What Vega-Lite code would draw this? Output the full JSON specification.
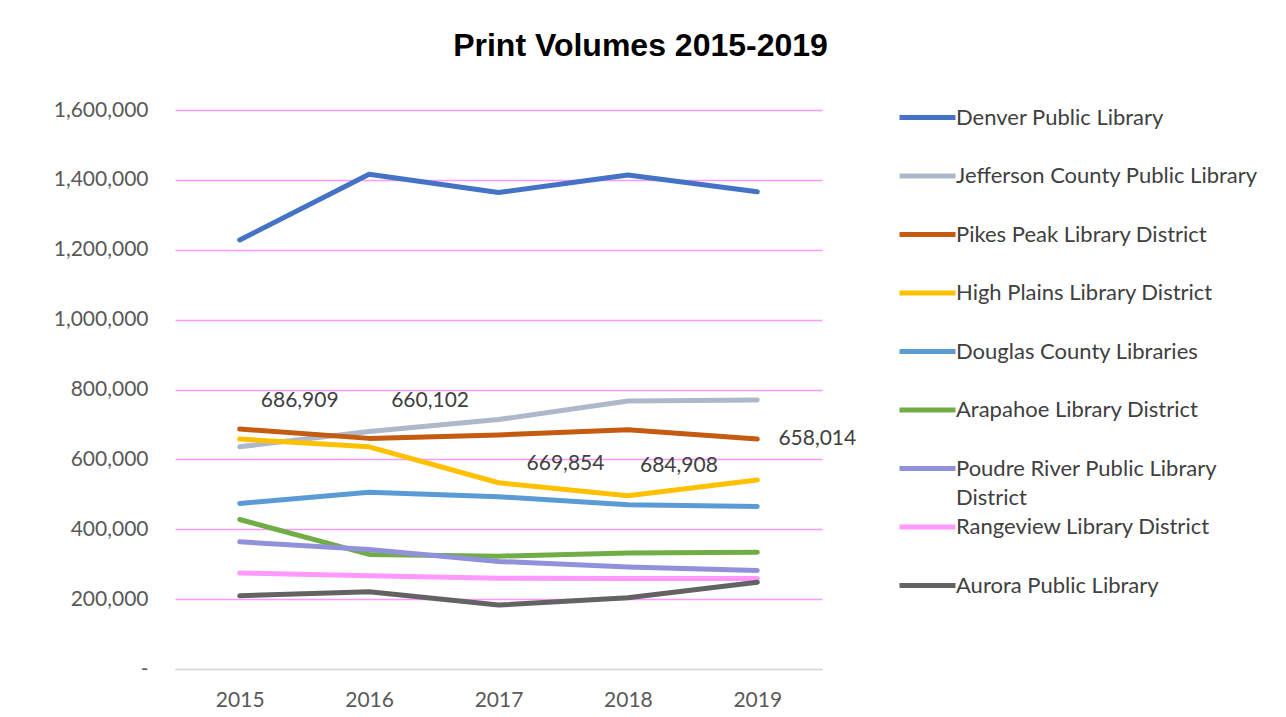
{
  "$schema": "https://vega.github.io/schema/vega-lite/v6.json",
  "width": 647,
  "height": 559,
  "autosize": {"type": "none"},
  "padding": {"left": 175, "top": 110, "right": 464, "bottom": 48},
  "background": "white",
  "config": {"view": {"stroke": null}, "style": {"guide-label": {"lineHeight": 29}}},
  "title": {"text": "Print Volumes 2015-2019", "font": "Liberation Sans", "fontSize": 32, "fontWeight": "bold", "color": "#000000", "anchor": "middle", "dx": 142, "offset": 36},
  "data": {"values": [
    {"library": "Denver Public Library", "year": "2015", "volume": 1228000},
    {"library": "Denver Public Library", "year": "2016", "volume": 1416000},
    {"library": "Denver Public Library", "year": "2017", "volume": 1364000},
    {"library": "Denver Public Library", "year": "2018", "volume": 1414000},
    {"library": "Denver Public Library", "year": "2019", "volume": 1366000},
    {"library": "Jefferson County Public Library", "year": "2015", "volume": 636000},
    {"library": "Jefferson County Public Library", "year": "2016", "volume": 680000},
    {"library": "Jefferson County Public Library", "year": "2017", "volume": 714000},
    {"library": "Jefferson County Public Library", "year": "2018", "volume": 767000},
    {"library": "Jefferson County Public Library", "year": "2019", "volume": 770000},
    {"library": "Pikes Peak Library District", "year": "2015", "volume": 686909},
    {"library": "Pikes Peak Library District", "year": "2016", "volume": 660102},
    {"library": "Pikes Peak Library District", "year": "2017", "volume": 669854},
    {"library": "Pikes Peak Library District", "year": "2018", "volume": 684908},
    {"library": "Pikes Peak Library District", "year": "2019", "volume": 658014},
    {"library": "High Plains Library District", "year": "2015", "volume": 658000},
    {"library": "High Plains Library District", "year": "2016", "volume": 636000},
    {"library": "High Plains Library District", "year": "2017", "volume": 533000},
    {"library": "High Plains Library District", "year": "2018", "volume": 496000},
    {"library": "High Plains Library District", "year": "2019", "volume": 541000},
    {"library": "Douglas County Libraries", "year": "2015", "volume": 474000},
    {"library": "Douglas County Libraries", "year": "2016", "volume": 506000},
    {"library": "Douglas County Libraries", "year": "2017", "volume": 493000},
    {"library": "Douglas County Libraries", "year": "2018", "volume": 470000},
    {"library": "Douglas County Libraries", "year": "2019", "volume": 465000},
    {"library": "Arapahoe Library District", "year": "2015", "volume": 428000},
    {"library": "Arapahoe Library District", "year": "2016", "volume": 328000},
    {"library": "Arapahoe Library District", "year": "2017", "volume": 323000},
    {"library": "Arapahoe Library District", "year": "2018", "volume": 332000},
    {"library": "Arapahoe Library District", "year": "2019", "volume": 334000},
    {"library": "Poudre River Public Library District", "year": "2015", "volume": 364000},
    {"library": "Poudre River Public Library District", "year": "2016", "volume": 342000},
    {"library": "Poudre River Public Library District", "year": "2017", "volume": 308000},
    {"library": "Poudre River Public Library District", "year": "2018", "volume": 292000},
    {"library": "Poudre River Public Library District", "year": "2019", "volume": 282000},
    {"library": "Rangeview Library District", "year": "2015", "volume": 275000},
    {"library": "Rangeview Library District", "year": "2016", "volume": 267000},
    {"library": "Rangeview Library District", "year": "2017", "volume": 260000},
    {"library": "Rangeview Library District", "year": "2018", "volume": 259000},
    {"library": "Rangeview Library District", "year": "2019", "volume": 259000},
    {"library": "Aurora Public Library", "year": "2015", "volume": 209500},
    {"library": "Aurora Public Library", "year": "2016", "volume": 221000},
    {"library": "Aurora Public Library", "year": "2017", "volume": 183000},
    {"library": "Aurora Public Library", "year": "2018", "volume": 204000},
    {"library": "Aurora Public Library", "year": "2019", "volume": 248000}
  ]},
  "encoding": {
    "x": {"field": "year", "type": "ordinal", "scale": {"type": "point", "padding": 0.5},
      "axis": {"title": null, "labelAngle": 0, "ticks": false, "domain": true, "domainColor": "#d9d9d9", "domainWidth": 1.5, "labelFont": "Lato", "labelFontSize": 21, "labelColor": "#595959", "labelPadding": 20, "grid": false}},
    "y": {"field": "volume", "type": "quantitative", "scale": {"domain": [0, 1600000]},
      "axis": {"title": null, "values": [0, 200000, 400000, 600000, 800000, 1000000, 1200000, 1400000, 1600000],
        "labelExpr": "datum.value === 0 ? '-' : format(datum.value, ',')",
        "ticks": false, "domain": false, "grid": true,
        "gridColor": {"condition": {"test": "datum.value === 0", "value": "#d9d9d9"}, "value": "#FF99FF"},
        "gridWidth": 1.5, "labelFont": "Lato", "labelFontSize": 21, "labelColor": "#595959", "labelPadding": 27}}
  },
  "layer": [
    {
      "mark": {"type": "line", "strokeWidth": 5, "strokeCap": "round", "strokeJoin": "round"},
      "encoding": {
        "color": {"field": "library", "type": "nominal",
          "scale": {
            "domain": ["Denver Public Library", "Jefferson County Public Library", "Pikes Peak Library District", "High Plains Library District", "Douglas County Libraries", "Arapahoe Library District", "Poudre River Public Library District", "Rangeview Library District", "Aurora Public Library"],
            "range": ["#4472C4", "#ADB9CA", "#C55A11", "#FFC000", "#5B9BD5", "#70AD47", "#9190DA", "#FF99FF", "#636363"]},
          "legend": {"title": null, "orient": "none", "legendX": 722, "legendY": -9, "padding": 0,
            "symbolType": "M-1,0H3", "symbolSize": 784, "symbolStrokeWidth": 5,
            "labelFont": "Lato", "labelFontSize": 22, "labelColor": "#404040", "labelOffset": 26, "labelLimit": 400,
            "rowPadding": 1.5,
            "labelExpr": "datum.label === 'Poudre River Public Library District' ? ['Poudre River Public Library', 'District'] : [datum.label, ' ']"}}
      }
    },
    {
      "transform": [{"filter": "datum.library === 'Pikes Peak Library District' && datum.year === '2015'"}],
      "mark": {"type": "text", "font": "Lato", "fontSize": 21, "color": "#404040", "dx": 60, "dy": -28},
      "encoding": {"text": {"field": "volume", "type": "quantitative", "format": ","}}
    },
    {
      "transform": [{"filter": "datum.library === 'Pikes Peak Library District' && datum.year === '2016'"}],
      "mark": {"type": "text", "font": "Lato", "fontSize": 21, "color": "#404040", "dx": 61, "dy": -37},
      "encoding": {"text": {"field": "volume", "type": "quantitative", "format": ","}}
    },
    {
      "transform": [{"filter": "datum.library === 'Pikes Peak Library District' && datum.year === '2017'"}],
      "mark": {"type": "text", "font": "Lato", "fontSize": 21, "color": "#404040", "dx": 67, "dy": 29},
      "encoding": {"text": {"field": "volume", "type": "quantitative", "format": ","}}
    },
    {
      "transform": [{"filter": "datum.library === 'Pikes Peak Library District' && datum.year === '2018'"}],
      "mark": {"type": "text", "font": "Lato", "fontSize": 21, "color": "#404040", "dx": 51, "dy": 36},
      "encoding": {"text": {"field": "volume", "type": "quantitative", "format": ","}}
    },
    {
      "transform": [{"filter": "datum.library === 'Pikes Peak Library District' && datum.year === '2019'"}],
      "mark": {"type": "text", "font": "Lato", "fontSize": 21, "color": "#404040", "dx": 60, "dy": 0},
      "encoding": {"text": {"field": "volume", "type": "quantitative", "format": ","}}
    }
  ]
}
